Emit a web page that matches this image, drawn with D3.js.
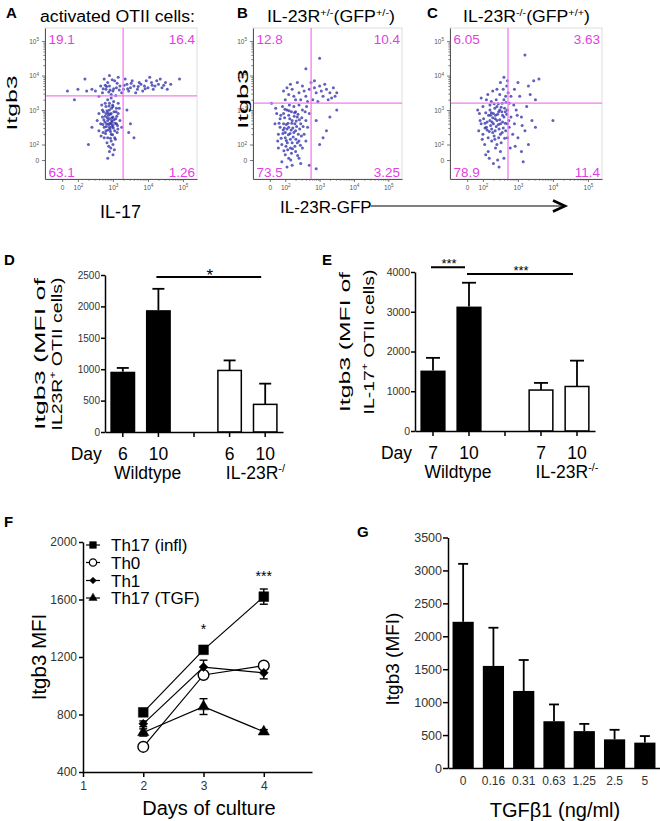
<!DOCTYPE html>
<html><head><meta charset="utf-8">
<script src="https://cdn.jsdelivr.net/npm/d3@7/dist/d3.min.js"></script>
<style>
html,body{margin:0;padding:0;background:#fff;}
svg{display:block;}
</style></head>
<body>
<svg id="fig" width="660" height="821"></svg>
<script>
const FONT = '"Liberation Sans", Arial, Helvetica, sans-serif';

// ================= DATA =================
// ---- Panels A–C (flow cytometry) ----
const flowTickValues = [0, 100, 1000, 10000, 100000];
const flowTickLabels = ["0", "10^2", "10^3", "10^4", "10^5"];
const titleA = [["activated OTII cells:", 0]];
const titleB = [["IL-23R", 0], ["+/-", 1], ["(GFP", 0], ["+/-", 1], [")", 0]];
const titleC = [["IL-23R", 0], ["-/-", 1], ["(GFP", 0], ["+/+", 1], [")", 0]];
const quadA = ["19.1", "16.4", "63.1", "1.26"];   // UL, UR, LL, LR
const quadB = ["12.8", "10.4", "73.5", "3.25"];
const quadC = ["6.05", "3.63", "78.9", "11.4"];
const gateA = [1950, 2570];                        // x gate, y gate (fluorescence)
const gateB = [565, 1590];
const gateC = [520, 1590];
// events, as [log10 x-fluorescence, log10 Itgb3]
const cellsA = [[2.90,2.50],[2.95,2.60],[2.85,2.70],[3.00,2.80],[2.80,2.90],[2.90,3.00],[3.05,2.40],[2.75,2.50],[2.95,2.30],[3.10,2.60],[2.85,2.20],[2.70,2.80],[3.00,3.10],[2.90,3.20],[2.80,3.10],[3.15,2.90],[2.65,2.60],[2.95,2.10],[3.05,2.20],[2.80,2.40],[2.90,2.75],[3.00,2.55],[2.70,3.00],[3.10,3.05],[2.85,3.30],[2.95,2.90],[2.75,2.20],[3.20,2.70],[2.60,2.90],[3.00,2.00],[2.88,1.95],[2.92,2.45],[2.82,2.60],[3.08,2.75],[2.98,2.65],[2.72,2.35],[3.12,2.35],[2.78,3.20],[3.02,3.25],[2.68,3.15],[2.90,1.80],[3.00,1.70],[2.85,1.60],[2.95,3.35],[3.15,3.20],[2.60,2.40],[2.55,2.70],[3.25,2.50],[2.87,2.85],[2.93,2.38],[2.83,2.05],[3.03,2.95],[2.77,2.65],[3.07,2.15],[2.97,2.78],[2.73,2.95],[3.13,2.55],[2.89,3.12],[2.99,2.28],[2.81,2.52],[3.18,3.05],[2.66,2.25],[2.94,1.90],[3.04,1.85],[2.86,2.92],[2.96,2.70],
 [2.84,2.78],[2.91,2.62],[3.01,2.48],[2.79,2.32],[2.96,3.05],[3.06,2.62],[2.86,2.42],[2.74,2.72],[3.11,2.82],[2.93,2.18],[2.83,2.98],[3.03,2.72],[2.71,2.58],[2.99,3.15],[3.14,2.45],[2.88,2.58],[2.78,2.82],[2.97,2.52],[3.09,2.95],[2.92,2.88],
 [2.70,3.50],[2.80,3.60],[2.90,3.70],[3.00,3.55],[3.10,3.65],[2.85,3.80],[2.95,3.45],[3.20,3.70],[3.30,3.60],[3.40,3.75],[3.50,3.65],[3.60,3.70],[3.70,3.60],[3.80,3.75],[3.90,3.70],[4.00,3.65],[4.10,3.80],[4.20,3.70],[4.30,3.75],[4.40,3.65],[4.50,3.80],[4.65,3.75],[2.75,3.90],[3.05,3.85],[3.25,3.50],[3.45,3.55],[3.55,3.85],[3.75,3.80],[3.95,3.85],[4.15,3.60],[2.60,3.40],[2.65,3.70],[3.35,3.90],[2.90,4.00],[3.15,3.95],[4.35,3.90],[4.55,3.60],[3.65,3.50],[2.50,3.55],[2.40,3.60],[3.85,3.55],[4.05,3.95],[2.78,3.72],[2.88,3.52],[2.98,3.88],[3.08,3.42],[2.72,3.62],[3.18,3.58],[4.25,3.85],[4.45,3.72],
 [3.02,3.62],[3.12,3.78],[2.92,3.58],[3.32,3.72],[3.52,3.78],[3.72,3.68],[3.92,3.62],[4.12,3.72],[2.82,3.68],[3.42,3.62],
 [2.20,3.90],[1.90,3.30],[3.50,2.60],[3.60,2.20],[2.30,2.00],[3.40,3.00],[4.90,3.90],[1.70,3.55],[2.40,2.50],[2.25,3.55],[2.00,3.60],[3.45,2.35]];
const cellsB = [[1.90,2.00],[2.00,2.20],[2.10,2.50],[2.20,2.70],[1.95,2.90],[2.05,3.00],[2.30,2.40],[2.40,2.10],[2.15,1.90],[1.85,2.50],[1.80,2.30],[2.25,3.10],[2.35,2.80],[2.45,2.60],[2.50,3.00],[2.00,1.70],[2.10,1.60],[2.30,1.80],[1.90,1.50],[2.20,1.40],[2.40,1.60],[1.85,2.75],[2.05,2.45],[2.15,2.15],[2.25,2.35],[2.35,2.05],[1.95,2.60],[2.10,2.85],[2.30,2.95],[2.40,3.15],[2.55,2.30],[2.60,2.70],[2.50,1.90],[1.75,2.90],[1.80,1.90],[2.00,2.35],[2.20,2.05],[2.28,2.60],[2.12,3.15],[1.92,3.10],[2.42,2.45],[2.02,1.95],[2.18,1.75],[2.38,2.30],[2.60,2.10],[2.65,2.50],[2.70,2.90],[2.45,1.45],[2.05,1.35],[1.70,2.60],[1.88,2.18],[1.98,2.78],[2.08,2.62],[2.18,2.95],[2.28,1.95],[2.48,2.78],[2.58,2.95],[1.78,2.10],[1.82,2.62],[2.22,2.48],[2.32,2.68],[2.14,2.32],[1.96,1.82],[2.36,1.68],[2.52,2.52],[2.62,3.10],[1.72,3.05],[2.06,2.05],[2.26,2.82],[2.44,1.98],[2.16,1.55],[1.94,2.42],
 [2.03,2.58],[2.13,2.75],[2.23,2.22],[2.33,2.52],[1.93,2.32],[2.07,1.85],[2.27,2.92],[2.17,2.42],[1.87,2.85],[2.37,2.88],[2.47,2.25],[2.03,2.12],[2.21,1.88],[2.11,2.98],[1.97,2.48],[2.31,2.15],[2.41,2.72],[2.09,2.28],[1.99,3.02],[2.19,2.62],
 [2.00,3.30],[2.10,3.45],[2.20,3.60],[2.30,3.30],[2.40,3.50],[2.50,3.70],[2.60,3.40],[2.70,3.60],[2.80,3.30],[2.90,3.50],[3.00,3.70],[3.10,3.40],[3.20,3.60],[3.30,3.50],[3.40,3.65],[2.15,3.75],[2.35,3.80],[2.55,3.55],[2.75,3.80],[2.95,3.25],[3.05,3.55],[3.15,3.75],[3.35,3.35],[1.95,3.55],[2.45,3.30],[2.65,3.25],[2.85,3.65],[3.25,3.30],[3.50,3.50],[2.25,3.40],[2.05,3.65],[2.85,3.85],[3.45,3.40],
 [3.00,4.50],[2.60,4.20],[3.30,2.80],[3.00,2.00],[3.50,3.00],[2.90,1.30],[1.60,3.20],[2.70,1.40],[3.20,2.40],[2.90,2.70],[3.10,2.20]];
const cellsC = [[2.00,2.30],[2.10,2.50],[2.20,2.70],[2.30,2.90],[2.40,3.10],[2.50,2.60],[2.60,2.80],[2.70,3.00],[2.05,2.00],[2.15,1.80],[2.25,2.10],[2.35,2.40],[2.45,2.20],[2.55,3.20],[2.65,3.40],[2.75,2.50],[1.95,2.60],[1.90,2.90],[2.00,3.10],[2.10,3.30],[2.20,3.00],[2.30,2.60],[2.40,2.00],[2.50,1.80],[2.60,1.60],[2.70,2.20],[2.80,2.80],[2.75,3.20],[2.65,2.40],[2.15,2.20],[2.25,2.45],[2.35,2.75],[2.45,2.95],[2.55,2.35],[2.62,3.05],[2.72,3.50],[2.68,3.70],[2.58,3.60],[2.48,3.45],[2.38,3.30],[2.28,3.55],[2.18,1.60],[2.08,1.70],[1.98,2.15],[1.88,2.40],[1.85,3.00],[2.42,1.55],[2.52,2.05],[2.78,1.90],[2.80,3.40],[2.70,3.85],[2.60,3.95],[2.50,3.80],[2.32,2.25],[2.22,2.85],[2.12,2.65],[2.02,2.75],[2.44,2.58],[2.64,2.62],[2.56,2.85],[2.34,3.05],[2.24,3.25],[2.14,3.45],[1.95,3.35],[2.46,1.35],[2.30,1.45],[2.18,2.38],[2.38,2.52],[2.48,2.72],[2.28,2.78],[2.08,2.92],[2.58,2.48],[2.68,2.88],[2.42,2.88],[2.52,3.08],[2.62,2.18],[2.36,1.90],[2.06,2.48],[1.92,2.70],[2.20,3.15],[2.40,3.60],[2.74,2.70],[2.66,3.22],
 [2.26,2.65],[2.36,2.85],[2.46,2.45],[2.56,2.65],[2.16,2.85],[2.06,2.62],[2.44,3.18],[2.54,2.95],[2.34,2.15],[2.24,2.92],[2.64,2.95],[2.12,2.42],[2.32,3.18],[2.50,2.30],[2.22,2.55],[2.40,2.70],[2.60,3.30],[2.70,2.60],[2.28,2.35],[2.48,3.00],
 [2.90,2.60],[3.00,2.20],[3.10,2.80],[3.20,2.40],[2.95,3.00],[3.05,3.40],[3.25,3.10],[2.90,3.60],[3.30,2.00],[3.40,2.70],[3.50,3.30],[3.10,1.80],[3.00,3.80],[3.30,3.70],[3.45,3.85],[3.60,3.90],[2.85,2.30],[3.15,1.50],[3.50,2.50],[4.00,2.70],[3.20,4.60],[2.92,1.95],[2.98,2.85],[3.12,2.55],[2.88,3.15],[3.35,3.45]];

// ---- Panel D ----
const dSlots = ["WT-6", "WT-10", "gap", "KO-6", "KO-10"];
const dBars = ["WT-6", "WT-10", "KO-6", "KO-10"];
const dDays = ["6", "10", "6", "10"];
const dMean = [960, 1940, 980, 440];
const dSem = [60, 340, 160, 330];
const dFilled = [true, true, false, false];
const dTicks = [0, 500, 1000, 1500, 2000, 2500];
const dGroups = [[["Wildtype", 0]], [["IL-23R", 0], ["-/", 1]]];
const dSig = [{ from: "WT-10", to: "KO-10", level: 2470, label: "*" }];
// ---- Panel E ----
const eSlots = ["WT-7", "WT-10", "gap", "KO-7", "KO-10"];
const eBars = ["WT-7", "WT-10", "KO-7", "KO-10"];
const eDays = ["7", "10", "7", "10"];
const eMean = [1520, 3130, 1030, 1120];
const eSem = [320, 600, 180, 650];
const eFilled = [true, true, false, false];
const eTicks = [0, 1000, 2000, 3000, 4000];
const eGroups = [[["Wildtype", 0]], [["IL-23R", 0], ["-/-", 1]]];
const eSig = [{ from: "WT-7", to: "WT-10", level: 4120, label: "***" },
              { from: "WT-10", to: "KO-10", level: 3950, label: "***" }];
// ---- Panel F ----
const fDays = [2, 3, 4];
const fXTicks = [1, 2, 3, 4];
const fYTicks = [400, 800, 1200, 1600, 2000];
const fNames = ["Th17 (infl)", "Th0", "Th1", "Th17 (TGF)"];
const fTh17infl = [815, 1250, 1620];
const fTh0 = [575, 1075, 1140];
const fTh1 = [735, 1130, 1090];
const fTh17tgf = [675, 855, 680];
const fSemTh17infl = [20, 15, 53];
const fSemTh0 = [10, 20, 15];
const fSemTh1 = [20, 48, 42];
const fSemTh17tgf = [25, 55, 15];
const fStars = [{ day: 3, value: 1250, label: "*" }, { day: 4, value: 1620, label: "***" }];
// ---- Panel G ----
const gDose = ["0", "0.16", "0.31", "0.63", "1.25", "2.5", "5"];
const gMean = [2220, 1550, 1170, 710, 560, 435, 385];
const gSem = [880, 580, 470, 255, 110, 145, 100];
const gTicks = [0, 500, 1000, 1500, 2000, 2500, 3000, 3500];

// ================= DRAWING =================
const svg = d3.select("#fig");

function addText(parent, x, y, str, size, o = {}) {
  const t = parent.append("text").attr("x", x).attr("y", y)
    .attr("font-family", FONT).attr("font-size", size)
    .attr("fill", o.fill || "#000")
    .attr("text-anchor", o.anchor || "start")
    .attr("font-weight", o.weight || "normal");
  if (o.transform) t.attr("transform", o.transform);
  if (o.len) t.attr("textLength", o.len).attr("lengthAdjust", "spacingAndGlyphs");
  const segs = Array.isArray(str) ? str : [[str, 0]];
  let up = false;
  segs.forEach(([s, sup]) => {
    const sp = t.append("tspan").text(s);
    if (sup) {
      sp.attr("font-size", size * 0.62);
      if (!up) { sp.attr("dy", -size * 0.38); up = true; }
    } else if (up) { sp.attr("dy", size * 0.38); up = false; }
  });
  return t;
}

function styleAxis(a, o) {
  a.selectAll(".domain").attr("stroke", o.color).attr("stroke-width", o.sw);
  a.selectAll(".tick line").attr("stroke", o.color).attr("stroke-width", o.tw || o.sw);
  a.selectAll(".tick text").attr("font-family", FONT).attr("font-size", o.fs).attr("fill", o.tc || "#222");
}

// Panel letters
const letters = [["A", 6, 18], ["B", 237, 18], ["C", 427, 18], ["D", 4, 265], ["E", 322, 265], ["F", 4, 527], ["G", 357, 537]];
letters.forEach(([l, x, y]) => addText(svg, x, y, l, 15, { weight: "bold" }));

// ---------- Flow panels ----------
const flowDomX = [1.06, 5.4], flowDomY = [1.0, 5.38];
function biex(v) { return v <= 0 ? 1.55 : Math.log10(v); }

function flowPanel(box, cells, gate, quad) {
  const g = svg.append("g");
  const x = d3.scaleLinear().domain(flowDomX).range([box.x0, box.x1]);
  const y = d3.scaleLinear().domain(flowDomY).range([box.y1, box.y0]);
  g.append("rect").attr("x", box.x0).attr("y", box.y0)
    .attr("width", box.x1 - box.x0).attr("height", box.y1 - box.y0)
    .attr("fill", "none").attr("stroke", "#d4d4d4").attr("stroke-width", 0.8);
  g.append("g").selectAll("circle").data(cells).join("circle")
    .attr("cx", d => x(d[0])).attr("cy", d => y(d[1])).attr("r", 1.5)
    .attr("fill", "#2a2aa8").attr("fill-opacity", 0.75);
  const gx = x(biex(gate[0])), gy = y(biex(gate[1]));
  const pink = "#f27df0";
  g.append("line").attr("x1", gx).attr("x2", gx).attr("y1", box.y0).attr("y2", box.y1)
    .attr("stroke", pink).attr("stroke-width", 1.3);
  g.append("line").attr("x1", box.x0).attr("x2", box.x1).attr("y1", gy).attr("y2", gy)
    .attr("stroke", pink).attr("stroke-width", 1.3);

  const minor = [];
  for (let k = 2; k <= 4; k++) for (let m = 2; m <= 9; m++) minor.push(Math.log10(m * Math.pow(10, k)));
  const fmt = (d, i) => flowTickLabels[i];
  const xa = g.append("g").attr("transform", `translate(0,${box.y1})`)
    .call(d3.axisBottom(x).tickValues(flowTickValues.map(biex)).tickSize(3).tickSizeOuter(0).tickPadding(3).tickFormat(fmt));
  const xm = g.append("g").attr("transform", `translate(0,${box.y1})`)
    .call(d3.axisBottom(x).tickValues(minor).tickSize(1.6).tickFormat(""));
  xm.select(".domain").remove();
  const ya = g.append("g").attr("transform", `translate(${box.x0},0)`)
    .call(d3.axisLeft(y).tickValues(flowTickValues.map(biex)).tickSize(3).tickSizeOuter(0).tickPadding(3).tickFormat(fmt));
  const ym = g.append("g").attr("transform", `translate(${box.x0},0)`)
    .call(d3.axisLeft(y).tickValues(minor).tickSize(1.6).tickFormat(""));
  ym.select(".domain").remove();
  [xa, xm, ya, ym].forEach(a => styleAxis(a, { color: "#555", sw: 1, tw: 0.8, fs: 6.5, tc: "#555" }));
  [xa, ya].forEach(a => a.selectAll(".tick text").each(function () {
    const t = d3.select(this), s = t.text();
    if (s.indexOf("^") >= 0) {
      const p = s.split("^");
      t.text(p[0]);
      t.append("tspan").attr("dy", "-0.5em").attr("font-size", 4.6).text(p[1]);
    }
  }));
  const qc = "#e23fe2";
  addText(g, box.x0 + 3.5, box.y0 + 16, quad[0], 13.5, { fill: qc });
  addText(g, box.x1 - 2, box.y0 + 16, quad[1], 13.5, { fill: qc, anchor: "end" });
  addText(g, box.x0 + 3.5, box.y1 - 2, quad[2], 13.5, { fill: qc });
  addText(g, box.x1 - 2, box.y1 - 2, quad[3], 13.5, { fill: qc, anchor: "end" });
}

flowPanel({ x0: 45, x1: 197, y0: 28, y1: 179 }, cellsA, gateA, quadA);
flowPanel({ x0: 253, x1: 402, y0: 28, y1: 179 }, cellsB, gateB, quadB);
flowPanel({ x0: 450, x1: 602, y0: 28, y1: 179 }, cellsC, gateC, quadC);

addText(svg, 40, 22, titleA, 16, { len: 155 });
addText(svg, 267, 22, titleB, 16, { len: 128 });
addText(svg, 463, 22, titleC, 16, { len: 127 });
addText(svg, 0, 0, "Itgb3", 15, { anchor: "middle", len: 55, transform: "translate(17,103) rotate(-90)" });
addText(svg, 0, 0, "Itgb3", 15, { anchor: "middle", len: 60, transform: "translate(248,99) rotate(-90)" });
addText(svg, 100, 218, "IL-17", 18);
addText(svg, 280, 213, "IL-23R-GFP", 17);
svg.append("line").attr("x1", 371).attr("x2", 563).attr("y1", 206).attr("y2", 206)
  .attr("stroke", "#000").attr("stroke-width", 1.2);
svg.append("path").attr("d", "M553,200.5 L565,206 L553,211.5").attr("fill", "none")
  .attr("stroke", "#000").attr("stroke-width", 2.6);

// ---------- Panels D & E ----------
function dayBarPanel(c) {
  const g = svg.append("g");
  const x = d3.scaleBand().domain(c.slots).range([c.x0, c.x1]).paddingInner(0.3).paddingOuter(0.15);
  const y = d3.scaleLinear().domain([0, c.yMax]).range([c.y0, c.y1]);
  const bw = x.bandwidth();
  const bars = c.bars.map((k, i) => ({ k, m: c.mean[i], s: c.sem[i], f: c.filled[i] }));
  g.selectAll("rect.bar").data(bars).join("rect").attr("class", "bar")
    .attr("x", d => x(d.k) + (d.f ? 0 : 0.75)).attr("width", d => bw - (d.f ? 0 : 1.5))
    .attr("y", d => y(d.m)).attr("height", d => y(0) - y(d.m))
    .attr("fill", d => d.f ? "#000" : "#fff").attr("stroke", "#000").attr("stroke-width", d => d.f ? 0 : 1.5);
  const eb = g.selectAll("g.err").data(bars).join("g").attr("class", "err");
  eb.append("line").attr("x1", d => x(d.k) + bw / 2).attr("x2", d => x(d.k) + bw / 2)
    .attr("y1", d => y(d.m)).attr("y2", d => y(d.m + d.s)).attr("stroke", "#000").attr("stroke-width", 1.8);
  eb.append("line").attr("x1", d => x(d.k) + bw / 2 - c.cap).attr("x2", d => x(d.k) + bw / 2 + c.cap)
    .attr("y1", d => y(d.m + d.s)).attr("y2", d => y(d.m + d.s)).attr("stroke", "#000").attr("stroke-width", 1.8);
  const ya = g.append("g").attr("transform", `translate(${c.x0},0)`)
    .call(d3.axisLeft(y).tickValues(c.ticks).tickSize(4).tickSizeOuter(0).tickPadding(1).tickFormat(d3.format("d")));
  const xa = g.append("g").attr("transform", `translate(0,${c.y0})`)
    .call(d3.axisBottom(x).tickSize(5).tickSizeOuter(0).tickFormat(""));
  styleAxis(ya, { color: "#000", sw: 1.5, fs: c.fs, tc: "#333" });
  styleAxis(xa, { color: "#000", sw: 1.5, fs: c.fs });
  const cx = k => x(k) + bw / 2;
  c.sig.forEach(s => {
    g.append("line").attr("x1", cx(s.from) - 2).attr("x2", cx(s.to) - 4)
      .attr("y1", y(s.level)).attr("y2", y(s.level)).attr("stroke", "#000").attr("stroke-width", 2);
    addText(g, (cx(s.from) + cx(s.to)) / 2 - 2, y(s.level) + c.starDy, s.label, c.starFs, { anchor: "middle" });
  });
  addText(g, cx(c.bars[0]) - 21, c.dayY, "Day", 17.5, { anchor: "end" });
  c.bars.forEach((k, i) => addText(g, cx(k), c.dayY, c.days[i], 17.5, { anchor: "middle" }));
  addText(g, (cx(c.bars[0]) + cx(c.bars[1])) / 2 + 7, c.dayY + 19, c.groups[0], 17.5, { anchor: "middle" });
  addText(g, (cx(c.bars[2]) + cx(c.bars[3])) / 2 + 8, c.dayY + 19, c.groups[1], 17.5, { anchor: "middle" });
  c.ylab.forEach(l => addText(g, 0, 0, l.t, l.fs, { anchor: "middle", len: l.len,
    transform: `translate(${l.x},${c.ylabY}) rotate(-90)` }));
}

dayBarPanel({
  slots: dSlots, bars: dBars, days: dDays, mean: dMean, sem: dSem, filled: dFilled,
  ticks: dTicks, yMax: 2500, groups: dGroups, sig: dSig,
  x0: 105, x1: 283, y0: 432, y1: 275, cap: 6, fs: 10, starFs: 17, starDy: 4, dayY: 460,
  ylabY: 354,
  ylab: [{ t: [["Itgb3 (MFI of", 0]], x: 45, fs: 15.5, len: 152 },
         { t: [["IL23R", 0], ["+", 1], [" OTII cells)", 0]], x: 62, fs: 15.5, len: 153 }]
});
dayBarPanel({
  slots: eSlots, bars: eBars, days: eDays, mean: eMean, sem: eSem, filled: eFilled,
  ticks: eTicks, yMax: 4000, groups: eGroups, sig: eSig,
  x0: 415, x1: 595, y0: 431, y1: 272, cap: 7, fs: 10.5, starFs: 13, starDy: 1, dayY: 459,
  ylabY: 342,
  ylab: [{ t: [["Itgb3 (MFI of", 0]], x: 350, fs: 15.5, len: 140 },
         { t: [["IL-17", 0], ["+", 1], [" OTII cells)", 0]], x: 374, fs: 15.5, len: 145 }]
});

// ---------- Panel F ----------
(function () {
  const g = svg.append("g");
  const x = d3.scaleLinear().domain([1, 4.8]).range([83, 312]);
  const y = d3.scaleLinear().domain([400, 2000]).range([772, 542]);
  const series = [
    { name: fNames[0], v: fTh17infl, s: fSemTh17infl, sym: d3.symbolSquare, size: 95, lsize: 45, rot: 0, fill: "#000" },
    { name: fNames[1], v: fTh0, s: fSemTh0, sym: d3.symbolCircle, size: 90, lsize: 42, rot: 0, fill: "#fff" },
    { name: fNames[2], v: fTh1, s: fSemTh1, sym: d3.symbolSquare, size: 40, lsize: 22, rot: 45, fill: "#000" },
    { name: fNames[3], v: fTh17tgf, s: fSemTh17tgf, sym: d3.symbolTriangle, size: 55, lsize: 30, rot: 0, fill: "#000" }
  ];
  const line = d3.line().x((d, i) => x(fDays[i])).y(d => y(d));
  series.forEach(s => g.append("path").attr("d", line(s.v)).attr("fill", "none").attr("stroke", "#000").attr("stroke-width", 1.2));
  series.forEach(s => s.v.forEach((v, i) => {
    const cx = x(fDays[i]), lo = y(v - s.s[i]), hi = y(v + s.s[i]);
    g.append("line").attr("x1", cx).attr("x2", cx).attr("y1", lo).attr("y2", hi).attr("stroke", "#000").attr("stroke-width", 1.4);
    [lo, hi].forEach(yy => g.append("line").attr("x1", cx - 4).attr("x2", cx + 4).attr("y1", yy).attr("y2", yy).attr("stroke", "#000").attr("stroke-width", 1.4));
  }));
  series.forEach(s => s.v.forEach((v, i) => {
    g.append("path").attr("d", d3.symbol(s.sym, s.size)())
      .attr("transform", `translate(${x(fDays[i])},${y(v)}) rotate(${s.rot})`)
      .attr("fill", s.fill).attr("stroke", "#000").attr("stroke-width", s.fill === "#fff" ? 1.4 : 0.5);
  }));
  fStars.forEach(st => addText(g, x(st.day), y(st.value) - 16, st.label, 14, { anchor: "middle" }));
  const ya = g.append("g").attr("transform", "translate(83,0)")
    .call(d3.axisLeft(y).tickValues(fYTicks).tickSize(4).tickSizeOuter(0).tickPadding(2).tickFormat(d3.format("d")));
  const xa = g.append("g").attr("transform", "translate(0,772)")
    .call(d3.axisBottom(x).tickValues(fXTicks).tickSize(5).tickSizeOuter(0).tickPadding(4).tickFormat(d3.format("d")));
  styleAxis(ya, { color: "#000", sw: 1.5, fs: 12, tc: "#333" });
  styleAxis(xa, { color: "#000", sw: 1.5, fs: 12, tc: "#333" });
  // legend
  const rows = [545, 562.5, 580.5, 598];
  series.forEach((s, i) => {
    g.append("line").attr("x1", 86).attr("x2", 100).attr("y1", rows[i]).attr("y2", rows[i]).attr("stroke", "#000").attr("stroke-width", 1.2);
    g.append("path").attr("d", d3.symbol(s.sym, s.lsize)())
      .attr("transform", `translate(93,${rows[i]}) rotate(${s.rot})`)
      .attr("fill", s.fill).attr("stroke", "#000").attr("stroke-width", s.fill === "#fff" ? 1.2 : 0.5);
    addText(g, 111, rows[i] + 6, s.name, 17);
  });
  addText(g, 0, 0, "Itgb3 MFI", 20.5, { anchor: "middle", transform: "translate(46,657) rotate(-90)" });
  addText(g, 209, 815, "Days of culture", 20, { anchor: "middle" });
})();

// ---------- Panel G ----------
(function () {
  const g = svg.append("g");
  const x = d3.scaleBand().domain(gDose).range([448, 660]).paddingInner(0.3).paddingOuter(0.15);
  const y = d3.scaleLinear().domain([0, 3500]).range([768, 537.5]);
  const bw = x.bandwidth();
  g.selectAll("rect").data(gDose).join("rect")
    .attr("x", d => x(d)).attr("width", bw)
    .attr("y", (d, i) => y(gMean[i])).attr("height", (d, i) => y(0) - y(gMean[i])).attr("fill", "#000");
  gDose.forEach((d, i) => {
    const cx = x(d) + bw / 2, top = y(gMean[i] + gSem[i]);
    g.append("line").attr("x1", cx).attr("x2", cx).attr("y1", y(gMean[i])).attr("y2", top).attr("stroke", "#000").attr("stroke-width", 1.8);
    g.append("line").attr("x1", cx - 5).attr("x2", cx + 5).attr("y1", top).attr("y2", top).attr("stroke", "#000").attr("stroke-width", 1.8);
  });
  const ya = g.append("g").attr("transform", "translate(448,0)")
    .call(d3.axisLeft(y).tickValues(gTicks).tickSize(5).tickSizeOuter(0).tickPadding(1).tickFormat(d3.format("d")));
  const xa = g.append("g").attr("transform", "translate(0,768)")
    .call(d3.axisBottom(x).tickSize(0).tickSizeOuter(0).tickPadding(8));
  styleAxis(ya, { color: "#000", sw: 1.5, fs: 12.5, tc: "#333" });
  styleAxis(xa, { color: "#000", sw: 1.5, fs: 12, tc: "#333" });
  addText(g, 0, 0, "Itgb3 (MFI)", 19, { anchor: "middle", transform: "translate(399,659) rotate(-90)" });
  addText(g, 555, 817, "TGFβ1 (ng/ml)", 20, { anchor: "middle" });
})();
</script>
</body></html>
